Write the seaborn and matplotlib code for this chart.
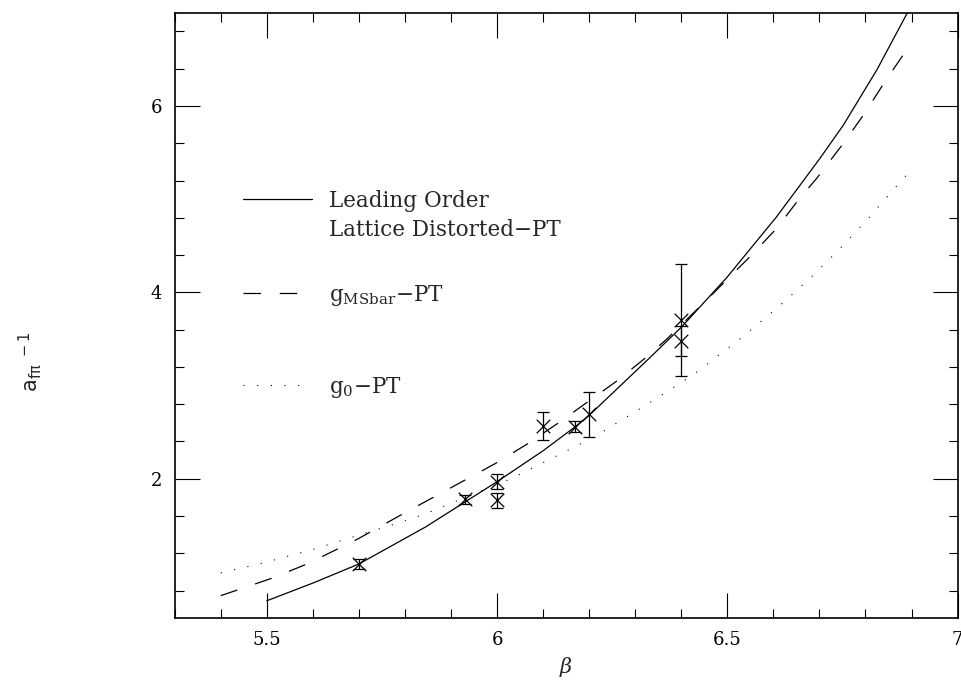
import numpy as np
import pandas as pd
import seaborn as sns
import matplotlib.pyplot as plt
from matplotlib.ticker import MultipleLocator

# ---- data ----
# measured points: beta, a^-1, error
beta_pts = [5.70, 5.93, 6.00, 6.00, 6.10, 6.17, 6.20, 6.40, 6.40]
ainv_pts = [1.085, 1.78, 1.97, 1.77, 2.57, 2.56, 2.69, 3.70, 3.48]
ainv_err = [0.05, 0.05, 0.08, 0.08, 0.15, 0.06, 0.24, 0.60, 0.16]

# leading order, lattice distorted PT (solid)
lo_beta = [5.50, 5.60, 5.70, 5.844, 6.00, 6.10, 6.173, 6.20, 6.332,
           6.401, 6.499, 6.607, 6.701, 6.752, 6.825, 6.891]
lo_ainv = [0.69, 0.88, 1.085, 1.48, 1.968, 2.30, 2.57, 2.68, 3.30,
           3.63, 4.16, 4.811, 5.437, 5.795, 6.39, 7.0]

# g_MSbar PT (dashed)
ms_beta = [5.40, 5.51, 5.59, 5.70, 5.804, 5.844, 5.997, 6.066, 6.133, 6.195,
           6.260, 6.321, 6.368, 6.444, 6.549, 6.607, 6.654, 6.694, 6.752,
           6.799, 6.842, 6.888, 6.90]
ms_ainv = [0.745, 0.93, 1.09, 1.36, 1.646, 1.753, 2.165, 2.374, 2.598, 2.818,
           3.048, 3.292, 3.496, 3.864, 4.382, 4.686, 4.99, 5.223, 5.599,
           5.927, 6.26, 6.592, 6.66]

# g_0 PT (dotted)
g0_beta = [5.40, 5.489, 5.606, 5.70, 5.778, 5.838, 6.032, 6.169, 6.224, 6.35,
           6.425, 6.52, 6.611, 6.683, 6.743, 6.803, 6.86, 6.90]
g0_ainv = [0.99, 1.092, 1.249, 1.395, 1.514, 1.61, 2.004, 2.343, 2.487, 2.873,
           3.113, 3.47, 3.845, 4.167, 4.461, 4.776, 5.098, 5.32]

sns.set_style('ticks')
plt.rcParams['font.family'] = ['DejaVu Serif']
plt.rcParams['mathtext.fontset'] = 'dejavuserif'

fig = plt.figure(figsize=(9.62, 6.85), dpi=100)
ax = fig.add_axes([0.1816, 0.0971, 0.8138, 0.8842])

lw = 0.9
sns.lineplot(x=lo_beta, y=lo_ainv, ax=ax, color='k', lw=lw, sort=False, estimator=None)
sns.lineplot(x=ms_beta, y=ms_ainv, ax=ax, color='k', lw=lw, sort=False, estimator=None,
             linestyle=(0, (14, 15)))
sns.lineplot(x=g0_beta, y=g0_ainv, ax=ax, color='k', lw=0.8, sort=False, estimator=None,
             linestyle=(0, (1, 11.3)))

ax.errorbar(beta_pts, ainv_pts, yerr=ainv_err, fmt='none', ecolor='k',
            elinewidth=0.9, capsize=4.2, capthick=0.9)
sns.scatterplot(x=beta_pts, y=ainv_pts, ax=ax, marker='x', color='k', s=95,
                linewidth=0.9, zorder=3)

# legend drawn by hand, in axes fraction
tr = ax.transAxes
ax.plot([0.0876, 0.175], [0.692, 0.692], color='k', lw=lw, transform=tr)
ax.plot([0.0876, 0.160], [0.537, 0.537], color='k', lw=lw, transform=tr,
        linestyle=(0, (14, 15)))
ax.plot([0.0876, 0.160], [0.386, 0.386], color='k', lw=0.8, transform=tr,
        linestyle=(0, (1, 11.3)))
fs_leg = 15.5
ax.text(0.197, 0.679, 'Leading Order', transform=tr, fontsize=fs_leg, va='baseline')
ax.text(0.197, 0.632, 'Lattice Distorted\u2212PT', transform=tr, fontsize=fs_leg, va='baseline')
ax.text(0.197, 0.525, r'$\mathrm{g_{MSbar}}$' + '\u2212PT', transform=tr, fontsize=fs_leg,
        va='baseline')
ax.text(0.197, 0.373, r'$\mathrm{g_{0}}$' + '\u2212PT', transform=tr, fontsize=fs_leg,
        va='baseline')

ax.set_xlim(5.3, 7.0)
ax.set_ylim(0.5, 7.0)
ax.set_xticks([5.5, 6.0, 6.5, 7.0])
ax.set_xticklabels(['5.5', '6', '6.5', '7'])
ax.set_yticks([2, 4, 6])
ax.set_yticklabels(['2', '4', '6'])
ax.xaxis.set_minor_locator(MultipleLocator(0.1))
ax.yaxis.set_minor_locator(MultipleLocator(0.4))
ax.tick_params(which='both', direction='in', top=True, right=True, width=0.8,
               labelsize=13, pad=9, colors='k')
ax.tick_params(which='major', length=18)
ax.tick_params(which='minor', length=6.5)
for s in ax.spines.values():
    s.set_linewidth(1.2)
    s.set_color('k')

ax.set_xlabel(r'$\beta$', fontsize=15)
ax.xaxis.set_label_coords(0.5, -0.06)
ax.set_ylabel(r'$\mathsf{a_{f\pi}}^{\mathsf{\ -1}}$', fontsize=15)
ax.yaxis.set_label_coords(-0.166, 0.423)

fig.savefig('out.png', dpi=100)
